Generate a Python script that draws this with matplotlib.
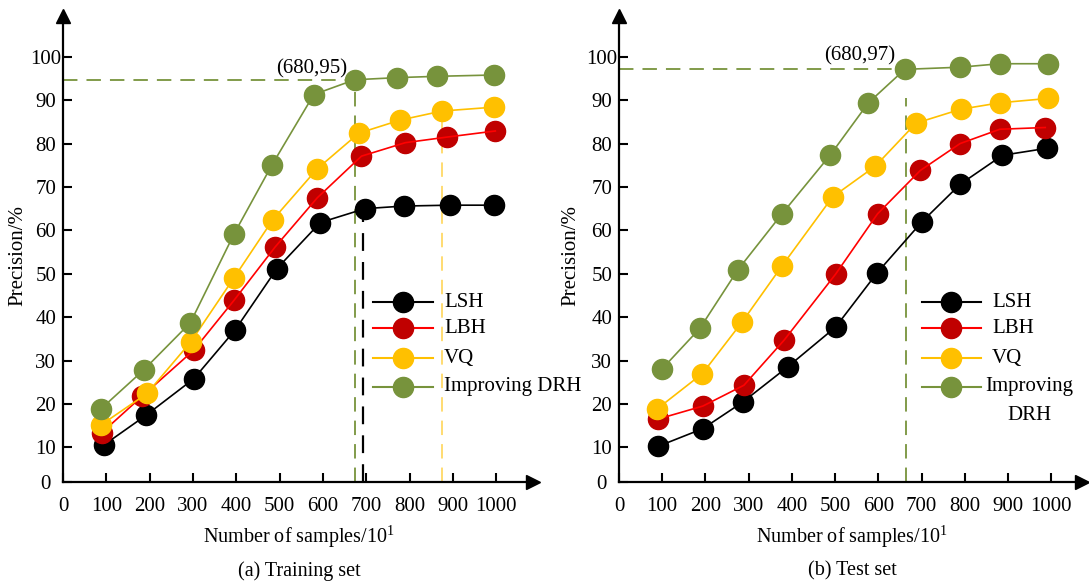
import matplotlib
matplotlib.use("Agg")
import matplotlib.pyplot as plt

plt.rcParams['font.family'] = ['Liberation Serif', 'DejaVu Serif']
plt.rcParams['mathtext.fontset'] = 'custom'
plt.rcParams['mathtext.rm'] = 'Liberation Serif'
plt.rcParams['mathtext.it'] = 'Liberation Serif'

# data
names = ['LSH', 'LBH', 'VQ', 'Improving DRH']

lsh_train_x = [94, 192, 302, 397, 494, 594, 697, 787, 894, 994]
lsh_train_y = [10.5, 17.4, 25.8, 37.0, 51.2, 61.8, 65.0, 65.6, 65.8, 65.8]
lbh_train_x = [90, 183, 302, 395, 490, 587, 689, 790, 887, 998]
lbh_train_y = [13.4, 21.8, 32.4, 43.9, 56.2, 67.5, 77.1, 80.2, 81.5, 82.9]
vq_train_x = [87, 194, 295, 395, 484, 587, 683, 778, 875, 996]
vq_train_y = [15.1, 22.4, 34.3, 49.1, 62.4, 74.2, 82.4, 85.4, 87.5, 88.4]
drh_train_x = [87, 186, 294, 395, 482, 579, 673, 772, 864, 994]
drh_train_y = [18.8, 27.8, 38.7, 59.2, 75.0, 91.3, 94.7, 95.2, 95.5, 95.8]

lsh_test_x = [90, 194, 286, 391, 501, 597, 701, 789, 887, 989]
lsh_test_y = [10.2, 14.3, 20.4, 28.6, 37.7, 50.2, 62.0, 70.6, 77.3, 78.9]
lbh_test_x = [90, 194, 289, 382, 501, 598, 697, 789, 881, 986]
lbh_test_y = [16.5, 19.5, 24.3, 34.7, 49.9, 63.8, 73.8, 80.0, 83.3, 83.7]
vq_test_x = [89, 193, 285, 377, 494, 593, 687, 790, 881, 993]
vq_test_y = [18.9, 27.0, 38.9, 51.8, 67.7, 74.8, 84.7, 87.9, 89.4, 90.4]
drh_test_x = [99, 187, 275, 377, 489, 577, 661, 789, 881, 993]
drh_test_y = [28.0, 37.4, 50.9, 63.8, 77.4, 89.4, 97.1, 97.6, 98.4, 98.4]

x_ticks = [0, 100, 200, 300, 400, 500, 600, 700, 800, 900, 1000]
y_ticks = [10, 20, 30, 40, 50, 60, 70, 80, 90, 100]

line_colors = ['#000000', '#FF0000', '#FFC000', '#77933C']
marker_colors = ['#000000', '#C00000', '#FFC000', '#77933C']

YMIN, YMAX = 2.0, 109.4
FS = 15


def setup_axes(ax, xmax):
    ax.set_xlim(0, xmax)
    ax.set_ylim(YMIN, YMAX)
    for s in ['top', 'right']:
        ax.spines[s].set_visible(False)
    for s in ['left', 'bottom']:
        ax.spines[s].set_linewidth(1.6)
    ax.set_xticks(x_ticks)
    ax.set_xticklabels([str(t) for t in x_ticks], fontsize=FS)
    ax.set_yticks([YMIN] + y_ticks)
    ax.set_yticklabels(['0'] + [str(t) for t in y_ticks], fontsize=FS)
    ax.tick_params(axis='both', direction='in', length=6.5, width=1.5)
    ax.tick_params(axis='x', pad=10.5)
    ax.tick_params(axis='y', pad=12.5)
    for lab in ax.get_yticklabels():
        lab.set_horizontalalignment('center')
    # arrow heads on axes
    ax.plot([1], [0], marker='>', ms=10, color='black', transform=ax.transAxes, clip_on=False)
    ax.plot([0], [1], marker='^', ms=10, color='black', transform=ax.transAxes, clip_on=False)


def draw_series(ax, xs, ys):
    for i, (x, y) in enumerate(zip(xs, ys)):
        ax.plot(x, y, ls='none', marker='o', ms=14.5, color=marker_colors[i],
                zorder=2 + 2 * i)
        ax.plot(x, y, '-', lw=1.2, color=line_colors[i], zorder=3 + 2 * i)


def draw_legend(ax, labels, x0, x1, xt, rows, xc=None):
    for i, lab in enumerate(labels):
        yy = rows[i]
        ax.plot([x0, x1], [yy, yy], '-', lw=1.5, color=line_colors[i],
                transform=ax.transAxes, clip_on=False, zorder=20)
        ax.plot([(x0 + x1) / 2], [yy], 'o', ms=14.5, color=marker_colors[i],
                transform=ax.transAxes, clip_on=False, zorder=21)
        if '\n' in lab:
            for k, part in enumerate(lab.split('\n')):
                ax.text(xc, yy - 0.062 * k, part, transform=ax.transAxes,
                        fontsize=FS, ha='center', va='center')
        else:
            ax.text(xt, yy, lab, transform=ax.transAxes, fontsize=FS,
                    ha='left', va='center')


fig = plt.figure(figsize=(10.89, 5.83), dpi=100)
ax1 = fig.add_axes([63 / 1089, 101 / 583, 470 / 1089, 466 / 583])
ax2 = fig.add_axes([619 / 1089, 101 / 583, 463 / 1089, 466 / 583])

rows = [0.386, 0.330, 0.266, 0.204]

# (a) training set
setup_axes(ax1, 1085)
draw_series(ax1, [lsh_train_x, lbh_train_x, vq_train_x, drh_train_x],
            [lsh_train_y, lbh_train_y, vq_train_y, drh_train_y])
ax1.hlines(drh_train_y[6], 0, drh_train_x[6], colors='#77933C', linestyles=(0, (8, 5)), lw=1.3, zorder=1)
ax1.vlines(drh_train_x[6], YMIN, drh_train_y[6], colors='#77933C', linestyles=(0, (8, 5)), lw=1.3, zorder=1)
ax1.vlines(lsh_train_x[6] - 4, YMIN, lsh_train_y[6], colors='black', linestyles=(0, (8, 5)), lw=1.6, zorder=1)
ax1.vlines(vq_train_x[8], YMIN, vq_train_y[8], colors='#FFD966', linestyles=(0, (8, 5)), lw=1.3, zorder=1)
ax1.text(575, 97.3, '(680,95)', fontsize=FS, ha='center', va='center')
draw_legend(ax1, names, 0.659, 0.788, 0.811, rows)

# (b) test set
setup_axes(ax2, 1071)
draw_series(ax2, [lsh_test_x, lbh_test_x, vq_test_x, drh_test_x],
            [lsh_test_y, lbh_test_y, vq_test_y, drh_test_y])
ax2.hlines(drh_test_y[6], 0, drh_test_x[6], colors='#77933C', linestyles=(0, (8, 5)), lw=1.3, zorder=1)
ax2.vlines(drh_test_x[6] + 2, YMIN, 90.5, colors='#77933C', linestyles=(0, (8, 5)), lw=1.3, zorder=1)
ax2.text(557, 100.2, '(680,97)', fontsize=FS, ha='center', va='center')
draw_legend(ax2, ['LSH', 'LBH', 'VQ', 'Improving\nDRH'], 0.654, 0.782, 0.806,
            rows, xc=0.887)

# labels
for cx, sub in [(299, '(a) Training set'), (852, '(b) Test set')]:
    fig.text(cx / 1089, 1 - 537 / 583, 'Number of samples/10$^1$', fontsize=14.5,
             ha='center', va='center')
    fig.text(cx / 1089, 1 - 571 / 583, sub, fontsize=14.5, ha='center', va='center')
for cx in [18, 571]:
    fig.text(cx / 1089, 1 - 255 / 583, 'Precision/%', fontsize=15, rotation=90,
             ha='center', va='center')

fig.savefig('out.png', dpi=100)
